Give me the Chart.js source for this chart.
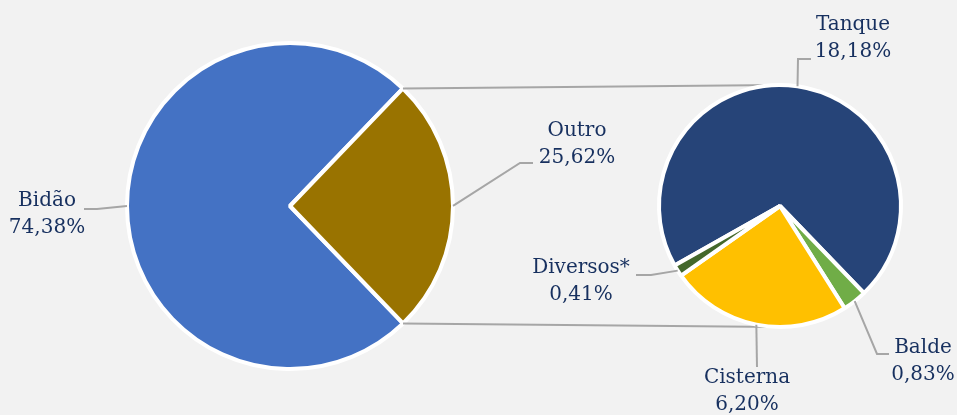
<!DOCTYPE html>
<html lang="pt">
<head>
  <meta charset="UTF-8" />
  <title>Bidão / Outro</title>
  <script src="https://cdn.jsdelivr.net/npm/chart.js"></script>
  <style>
    body { margin: 0; background: #f2f2f2; }
    .wrap { position: relative; width: 957px; height: 415px; background: #f2f2f2; }
    .wrap canvas { position: absolute; left: 0; top: 0; }
  </style>
</head>
<body>
  <div class="wrap">
    <canvas id="mainPie" width="957" height="415"></canvas>
    <canvas id="subPie" width="957" height="415"></canvas>
  </div>

  <script>
    // main pie
    const mainLabels = ['Bidão', 'Outro'];
    const mainValues = [74.38, 25.62];
    const mainColors = ['#4472c4', '#997300'];

    // breakdown of "Outro"
    const subLabels = ['Tanque', 'Balde', 'Cisterna', 'Diversos*'];
    const subValues = [18.18, 0.83, 6.20, 0.41];
    const subColors = ['#264478', '#70ad47', '#ffc000', '#43682b'];

    // where each label sits: leader points after the slice edge, then text centre
    const mainCallouts = [
      { leader: [[97, 209], [84, 209]], text: [47, 201] },
      { leader: [[520, 163], [533, 163]], text: [577, 131] }
    ];
    const subCallouts = [
      { leader: [[798, 59], [811, 59]], text: [853, 25] },
      { leader: [[877, 354], [889, 354]], text: [923, 348] },
      { leader: [[757, 367]], text: [747, 378] },
      { leader: [[651, 275], [636, 275]], text: [581, 268] }
    ];

    const textColor = '#17305f';
    const leaderColor = '#a6a6a6';

    function fmt(v) {
      return v.toFixed(2).replace('.', ',') + '%';
    }

    const callouts = {
      id: 'callouts',
      afterDraw(chart, args, opts) {
        const ctx = chart.ctx;
        const meta = chart.getDatasetMeta(0);
        const values = chart.data.datasets[0].data;
        ctx.save();
        meta.data.forEach((arc, i) => {
          const c = opts.items[i];
          if (!c) return;
          const p = arc.getProps(['x', 'y', 'startAngle', 'endAngle', 'outerRadius'], true);
          const mid = (p.startAngle + p.endAngle) / 2;
          ctx.strokeStyle = leaderColor;
          ctx.lineWidth = 2;
          ctx.beginPath();
          ctx.moveTo(p.x + Math.cos(mid) * p.outerRadius, p.y + Math.sin(mid) * p.outerRadius);
          c.leader.forEach(pt => ctx.lineTo(pt[0], pt[1]));
          ctx.stroke();

          ctx.fillStyle = textColor;
          ctx.font = '20px "DejaVu Serif"';
          ctx.textAlign = 'center';
          ctx.textBaseline = 'middle';
          ctx.fillText(chart.data.labels[i], c.text[0], c.text[1]);
          ctx.fillText(fmt(values[i]), c.text[0], c.text[1] + 27);
        });
        ctx.restore();
      }
    };

    const mainChart = new Chart(document.getElementById('mainPie'), {
      type: 'pie',
      data: {
        labels: mainLabels,
        datasets: [{
          data: mainValues,
          backgroundColor: mainColors,
          borderColor: '#ffffff',
          borderWidth: 4
        }]
      },
      options: {
        responsive: false,
        animation: false,
        rotation: 136.1,
        radius: 163,
        layout: { padding: { left: 0, right: 377, top: 0, bottom: 3 } },
        plugins: {
          legend: { display: false },
          tooltip: { enabled: false },
          callouts: { items: mainCallouts }
        }
      },
      plugins: [callouts]
    });

    // lines joining the "Outro" slice to the second pie
    const joinLines = {
      id: 'joinLines',
      beforeDatasetsDraw(chart) {
        const outro = mainChart.getDatasetMeta(0).data[1];
        if (!outro) return;
        const a = outro.getProps(['x', 'y', 'startAngle', 'endAngle', 'outerRadius'], true);
        const b = chart.getDatasetMeta(0).data[0].getProps(['x', 'y', 'outerRadius'], true);
        const ctx = chart.ctx;
        ctx.save();
        ctx.strokeStyle = leaderColor;
        ctx.lineWidth = 2;
        ctx.beginPath();
        ctx.moveTo(a.x + Math.cos(a.startAngle) * a.outerRadius, a.y + Math.sin(a.startAngle) * a.outerRadius);
        ctx.lineTo(b.x, b.y - b.outerRadius);
        ctx.moveTo(a.x + Math.cos(a.endAngle) * a.outerRadius, a.y + Math.sin(a.endAngle) * a.outerRadius);
        ctx.lineTo(b.x, b.y + b.outerRadius);
        ctx.stroke();
        ctx.restore();
      }
    };

    new Chart(document.getElementById('subPie'), {
      type: 'pie',
      data: {
        labels: subLabels,
        datasets: [{
          data: subValues,
          backgroundColor: subColors,
          borderColor: '#ffffff',
          borderWidth: 4
        }]
      },
      options: {
        responsive: false,
        animation: false,
        rotation: 240.6,
        radius: 121,
        layout: { padding: { left: 603, right: 0, top: 0, bottom: 3 } },
        plugins: {
          legend: { display: false },
          tooltip: { enabled: false },
          callouts: { items: subCallouts }
        }
      },
      plugins: [joinLines, callouts]
    });
  </script>
</body>
</html>
